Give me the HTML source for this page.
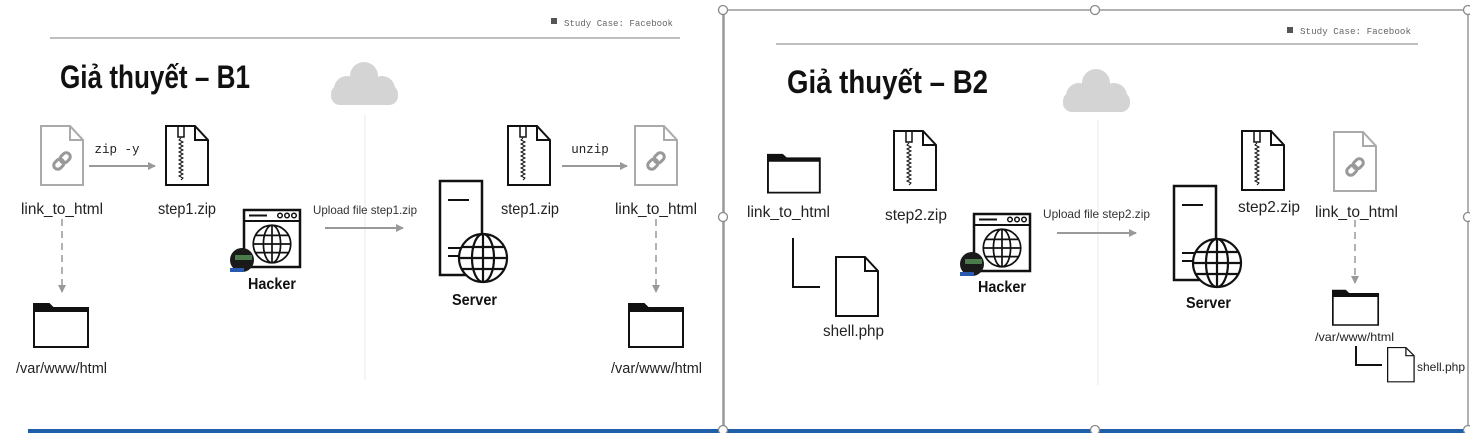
<!DOCTYPE html>
<html><head><meta charset="utf-8"><style>
html,body{margin:0;padding:0;background:#fff;width:1470px;height:433px;overflow:hidden}
svg{display:block}
text{font-family:"Liberation Sans",sans-serif}
.m{font-family:"Liberation Mono",monospace}
</style></head><body>
<svg width="1470" height="433" viewBox="0 0 1470 433" xmlns="http://www.w3.org/2000/svg">
<defs>
<marker id="ah" markerWidth="8" markerHeight="8" refX="7" refY="4" orient="auto" markerUnits="userSpaceOnUse"><path d="M0,0 L8,4 L0,8 z" fill="#999"/></marker>
<g id="doc"><path d="M1,1 H30 L43,15 V60 H1 Z M30,1 V15 H43" fill="#fff" stroke-width="2" stroke-linejoin="miter"/></g>
<g id="linkf"><use href="#doc" stroke="#aaa"/><g transform="translate(22,36) rotate(-45)" fill="none" stroke="#999" stroke-width="3"><rect x="-10" y="-4" width="11" height="8" rx="4"/><rect x="-1" y="-4" width="11" height="8" rx="4"/></g></g>
<g id="zipf"><use href="#doc" stroke="#111"/><path d="M13,1 V12 H19 V1" fill="none" stroke="#111" stroke-width="1.5"/><path d="M16,13 l-2,2 l4,2 l-4,2 l4,2 l-4,2 l4,2 l-4,2 l4,2 l-4,2 l4,2 l-4,2 l4,2 l-4,2 l4,2 l-4,2 l4,2 l-4,2 l4,2 l-4,2 l4,2 l-2,2" fill="none" stroke="#111" stroke-width="1"/></g>
<g id="folder"><path d="M1,8 V2 H16 L20,6 H55 V45 H1 Z" fill="#fff" stroke="#111" stroke-width="2"/><path d="M1,2 H16 L20,6 H55 V10 H1 Z" fill="#111"/></g>
<g id="globe" fill="none" stroke="#111" stroke-width="2.2"><circle r="24" fill="#fff"/><ellipse rx="11" ry="24"/><line x1="0" y1="-24" x2="0" y2="24"/><line x1="-24" y1="0" x2="24" y2="0"/><line x1="-21" y1="-11" x2="21" y2="-11"/><line x1="-21" y1="11" x2="21" y2="11"/></g>
<g id="browser"><rect x="1" y="1" width="56" height="57" fill="#fff" stroke="#111" stroke-width="2.5"/><line x1="1" y1="12" x2="57" y2="12" stroke="#111" stroke-width="2"/><line x1="6" y1="6.5" x2="24" y2="6.5" stroke="#111" stroke-width="2"/><circle cx="37" cy="6.5" r="2.3" fill="none" stroke="#111" stroke-width="1.5"/><circle cx="44" cy="6.5" r="2.3" fill="none" stroke="#111" stroke-width="1.5"/><circle cx="51" cy="6.5" r="2.3" fill="none" stroke="#111" stroke-width="1.5"/><use href="#globe" transform="translate(29,35) scale(0.78)"/></g>
<g id="pepe"><ellipse cx="12" cy="14" rx="12" ry="12" fill="#1a1a1a"/><rect x="5" y="9" width="17" height="5" fill="#4b7a4b"/><rect x="0" y="22" width="14" height="4" fill="#2a5ab0"/></g>
<g id="server"><rect x="1" y="1" width="42" height="94" fill="#fff" stroke="#111" stroke-width="2.5"/><line x1="9" y1="20" x2="30" y2="20" stroke="#111" stroke-width="2"/><line x1="9" y1="68" x2="22" y2="68" stroke="#111" stroke-width="2"/><line x1="9" y1="76" x2="22" y2="76" stroke="#111" stroke-width="2"/><use href="#globe" transform="translate(44,78)"/></g>
<g id="cloud" fill="#d4d4d4"><circle cx="37" cy="15" r="14"/><circle cx="20" cy="28" r="13"/><circle cx="55" cy="28" r="13"/><rect x="4" y="24" width="67" height="20" rx="9"/></g>
</defs>

<rect x="0" y="0" width="1470" height="433" fill="#fff"/>
<!-- LEFT PANEL -->
<rect x="551" y="18" width="6" height="6" fill="#555"/>
<text x="564" y="26" class="m" font-size="9.5" fill="#666" textLength="109" lengthAdjust="spacingAndGlyphs">Study Case: Facebook</text>
<line x1="50" y1="38" x2="680" y2="38" stroke="#aaa" stroke-width="1.5"/>
<text x="60" y="88" font-size="32" font-weight="bold" fill="#111" textLength="190" lengthAdjust="spacingAndGlyphs">Giả thuyết – B1</text>
<use href="#cloud" transform="translate(327,61)"/>
<line x1="365" y1="115" x2="365" y2="380" stroke="#f0f0f0" stroke-width="1.5"/>

<use href="#linkf" transform="translate(40,125)"/>
<text x="21" y="214" font-size="16" fill="#222" textLength="82" lengthAdjust="spacingAndGlyphs">link_to_html</text>
<text x="117" y="153" class="m" font-size="12.5" text-anchor="middle" fill="#222">zip -y</text>
<line x1="89" y1="166" x2="155" y2="166" stroke="#999" stroke-width="2" marker-end="url(#ah)"/>
<use href="#zipf" transform="translate(165,125)"/>
<text x="158" y="214" font-size="16" fill="#222" textLength="58" lengthAdjust="spacingAndGlyphs">step1.zip</text>
<line x1="62" y1="219" x2="62" y2="292" stroke="#999" stroke-width="1.5" stroke-dasharray="7,5" marker-end="url(#ah)"/>
<use href="#folder" transform="translate(33,302)"/>
<text x="16" y="373" font-size="15" fill="#222" textLength="91" lengthAdjust="spacingAndGlyphs">/var/www/html</text>

<use href="#browser" transform="translate(243,209)"/>
<use href="#pepe" transform="translate(230,246)"/>
<text x="248" y="289" font-size="16" font-weight="bold" fill="#111" textLength="48" lengthAdjust="spacingAndGlyphs">Hacker</text>
<text x="313" y="214" font-size="12" fill="#333" textLength="104" lengthAdjust="spacingAndGlyphs">Upload file step1.zip</text>
<line x1="325" y1="228" x2="403" y2="228" stroke="#999" stroke-width="2" marker-end="url(#ah)"/>
<use href="#server" transform="translate(439,180)"/>
<text x="452" y="305" font-size="16" font-weight="bold" fill="#111" textLength="45" lengthAdjust="spacingAndGlyphs">Server</text>

<use href="#zipf" transform="translate(507,125)"/>
<text x="501" y="214" font-size="16" fill="#222" textLength="58" lengthAdjust="spacingAndGlyphs">step1.zip</text>
<text x="590" y="153" class="m" font-size="12.5" text-anchor="middle" fill="#222">unzip</text>
<line x1="562" y1="166" x2="627" y2="166" stroke="#999" stroke-width="2" marker-end="url(#ah)"/>
<use href="#linkf" transform="translate(634,125)"/>
<text x="615" y="214" font-size="16" fill="#222" textLength="82" lengthAdjust="spacingAndGlyphs">link_to_html</text>
<line x1="656" y1="219" x2="656" y2="292" stroke="#999" stroke-width="1.5" stroke-dasharray="7,5" marker-end="url(#ah)"/>
<use href="#folder" transform="translate(628,302)"/>
<text x="611" y="373" font-size="15" fill="#222" textLength="91" lengthAdjust="spacingAndGlyphs">/var/www/html</text>

<!-- RIGHT PANEL -->
<line x1="724" y1="10" x2="724" y2="430" stroke="#999" stroke-width="1.5"/>
<rect x="723" y="10" width="745" height="420" fill="none" stroke="#999" stroke-width="1.5"/>
<line x1="28" y1="431" x2="1468" y2="431" stroke="#1f5ea8" stroke-width="4"/>
<g fill="#fff" stroke="#888" stroke-width="1.3">
<circle cx="723" cy="10" r="4.5"/><circle cx="1095" cy="10" r="4.5"/><circle cx="1468" cy="10" r="4.5"/>
<circle cx="723" cy="217" r="4.5"/><circle cx="1468" cy="217" r="4.5"/>
<circle cx="723" cy="430" r="4.5"/><circle cx="1095" cy="430" r="4.5"/><circle cx="1468" cy="430" r="4.5"/>
</g>
<rect x="1287" y="27" width="6" height="6" fill="#555"/>
<text x="1300" y="34" class="m" font-size="9.5" fill="#666" textLength="111" lengthAdjust="spacingAndGlyphs">Study Case: Facebook</text>
<line x1="776" y1="44" x2="1418" y2="44" stroke="#aaa" stroke-width="1.5"/>
<text x="787" y="93" font-size="32" font-weight="bold" fill="#111" textLength="201" lengthAdjust="spacingAndGlyphs">Giả thuyết – B2</text>
<use href="#cloud" transform="translate(1059,68)"/>
<line x1="1098" y1="120" x2="1098" y2="385" stroke="#f0f0f0" stroke-width="1.5"/>

<use href="#folder" transform="translate(767,153) scale(0.96,0.88)"/>
<text x="747" y="217" font-size="16" fill="#222" textLength="83" lengthAdjust="spacingAndGlyphs">link_to_html</text>
<path d="M793,238 V287 H820" fill="none" stroke="#111" stroke-width="2"/>
<use href="#doc" stroke="#111" transform="translate(835,256)"/>
<text x="823" y="336" font-size="16" fill="#222" textLength="61" lengthAdjust="spacingAndGlyphs">shell.php</text>
<use href="#zipf" transform="translate(893,130)"/>
<text x="885" y="220" font-size="16" fill="#222" textLength="62" lengthAdjust="spacingAndGlyphs">step2.zip</text>

<use href="#browser" transform="translate(973,213)"/>
<use href="#pepe" transform="translate(960,250)"/>
<text x="978" y="292" font-size="16" font-weight="bold" fill="#111" textLength="48" lengthAdjust="spacingAndGlyphs">Hacker</text>
<text x="1043" y="218" font-size="12" fill="#333" textLength="107" lengthAdjust="spacingAndGlyphs">Upload file step2.zip</text>
<line x1="1057" y1="233" x2="1136" y2="233" stroke="#999" stroke-width="2" marker-end="url(#ah)"/>
<use href="#server" transform="translate(1173,185)"/>
<text x="1186" y="308" font-size="16" font-weight="bold" fill="#111" textLength="45" lengthAdjust="spacingAndGlyphs">Server</text>

<use href="#zipf" transform="translate(1241,130)"/>
<text x="1238" y="212" font-size="16" fill="#222" textLength="62" lengthAdjust="spacingAndGlyphs">step2.zip</text>
<use href="#linkf" transform="translate(1333,131)"/>
<text x="1315" y="217" font-size="16" fill="#222" textLength="83" lengthAdjust="spacingAndGlyphs">link_to_html</text>
<line x1="1355" y1="220" x2="1355" y2="283" stroke="#999" stroke-width="1.5" stroke-dasharray="7,5" marker-end="url(#ah)"/>
<use href="#folder" transform="translate(1332,289) scale(0.84,0.8)"/>
<text x="1315" y="341" font-size="12" fill="#222" textLength="79" lengthAdjust="spacingAndGlyphs">/var/www/html</text>
<path d="M1356,346 V365 H1382" fill="none" stroke="#111" stroke-width="2"/>
<use href="#doc" stroke="#111" transform="translate(1387,347) scale(0.63,0.58)"/>
<text x="1417" y="371" font-size="12" fill="#222" textLength="48" lengthAdjust="spacingAndGlyphs">shell.php</text>
</svg>
</body></html>
